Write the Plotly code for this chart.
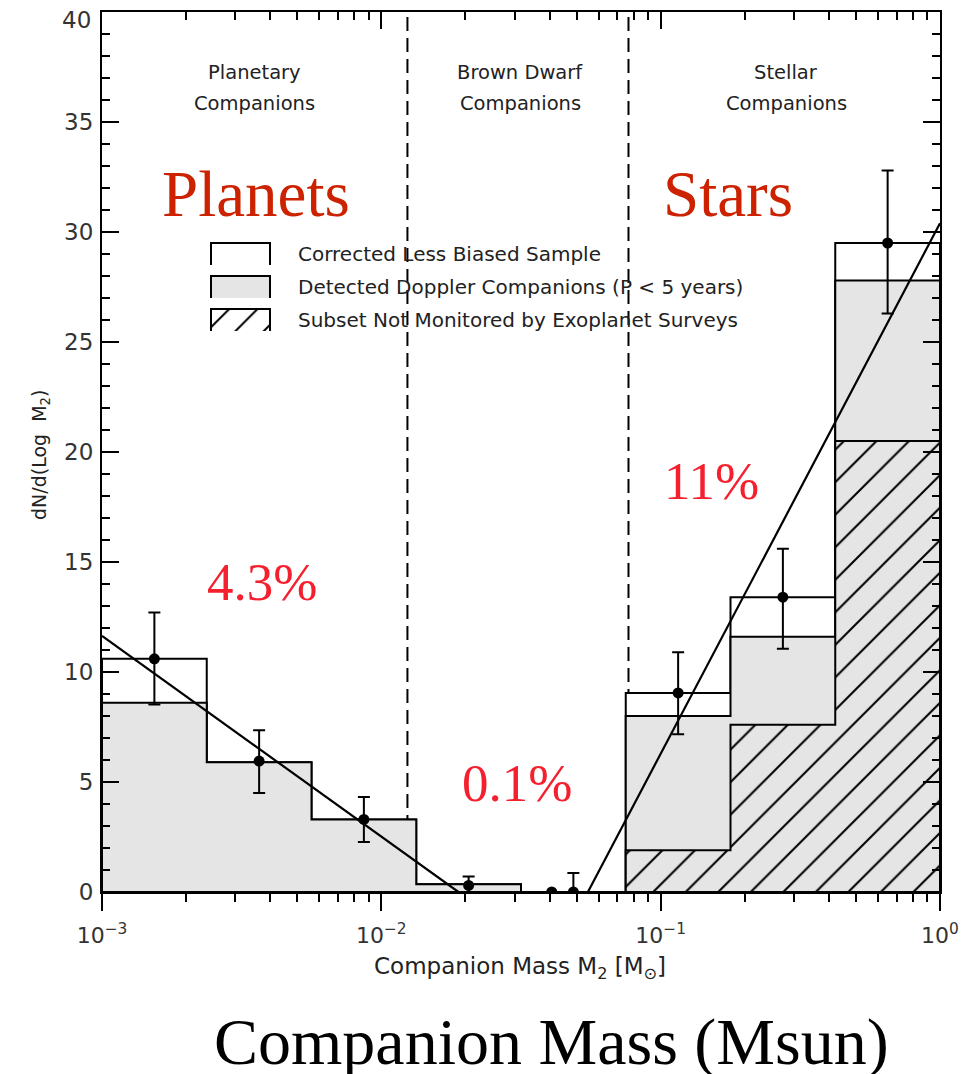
import plotly.graph_objects as go

# ---------------- data ----------------
# histogram bin edges in log10(M2 / Msun)
bin_edges_log = [-3.0, -2.625, -2.25, -1.875, -1.5, -1.125, -0.75, -0.375, 0.0]
corrected = [10.6, 5.9, 3.3, 0.35, 0.0, 9.05, 13.4, 29.5]      # Corrected Less Biased Sample
detected = [8.6, 5.9, 3.3, 0.35, 0.0, 8.0, 11.6, 27.8]         # Detected Doppler Companions
unmonitored = [0.0, 0.0, 0.0, 0.0, 0.0, 1.9, 7.6, 20.5]        # Subset Not Monitored

# data points with error bars (bin centres)
point_log = [-2.8125, -2.4375, -2.0625, -1.6875, -1.3125, -0.9375, -0.5625, -0.1875]
point_val = [10.6, 5.95, 3.3, 0.3, 0.0, 9.05, 13.4, 29.5]
err_high = [12.7, 7.35, 4.32, 0.71, 0.86, 10.9, 15.6, 32.8]
err_low = [8.52, 4.5, 2.27, 0.0, 0.0, 7.17, 11.06, 26.3]
extra_point_log = [-1.39]
extra_point_val = [0.0]

# fitted power laws (end points)
planet_fit_log = [-3.0, -1.724]
planet_fit_val = [11.64, 0.0]
stellar_fit_log = [-1.2605, 0.0]
stellar_fit_val = [0.0, 30.4]

# region boundaries (Msun)
boundaries = [0.0124, 0.0767]

# y ticks
y_ticks = [0, 5, 10, 15, 20, 25, 30, 35]
y_top_tick = 40

region_labels = [("Planetary", "Companions"), ("Brown Dwarf", "Companions"), ("Stellar", "Companions")]
legend_labels = ["Corrected Less Biased Sample",
                 "Detected Doppler Companions (P < 5 years)",
                 "Subset Not Monitored by Exoplanet Surveys"]

# ---------------- geometry ----------------
OFF = 8                           # page body margin
W, H = 974 - OFF, 1074 - OFF
L, R, T, B = 102, 940, 12, 892    # plot area in window pixels


def fx(p):
    return (p - L) / (R - L)


def fy(p):
    return (B - p) / (B - T)


def step_poly(edges, vals, i0=0, i1=None):
    if i1 is None:
        i1 = len(vals)
    xs = [10 ** edges[i0]]
    ys = [0.0]
    for i in range(i0, i1):
        xs += [10 ** edges[i], 10 ** edges[i + 1]]
        ys += [vals[i], vals[i]]
    xs += [10 ** edges[i1]]
    ys += [0.0]
    xs.append(xs[0])
    ys.append(ys[0])
    return xs, ys


GRAY = "#e5e5e5"
fig = go.Figure()

# dashed region boundaries (beneath histograms)
for b in boundaries:
    fig.add_trace(go.Scatter(x=[b, b], y=[0, 40], mode="lines",
                             line=dict(color="black", width=2, dash="14px,7px"),
                             showlegend=False, hoverinfo="skip"))

# corrected histogram (white)
xs, ys = step_poly(bin_edges_log, corrected)
fig.add_trace(go.Scatter(x=xs, y=ys, mode="lines", fill="toself", fillcolor="white",
                         line=dict(color="black", width=2), showlegend=False, hoverinfo="skip"))
# detected histogram (gray)
xs, ys = step_poly(bin_edges_log, detected)
fig.add_trace(go.Scatter(x=xs, y=ys, mode="lines", fill="toself", fillcolor=GRAY,
                         line=dict(color="black", width=2), showlegend=False, hoverinfo="skip"))
# unmonitored subset (hatched) - stellar bins only
xs, ys = step_poly(bin_edges_log, unmonitored, 5, 8)
fig.add_trace(go.Scatter(x=xs, y=ys, mode="lines", fill="toself", fillcolor=GRAY,
                         fillpattern=dict(shape="/", bgcolor=GRAY, fgcolor="#000000", fgopacity=1,
                                          size=23, solidity=0.09),
                         line=dict(color="black", width=2), showlegend=False, hoverinfo="skip"))

# points with error bars
fig.add_trace(go.Scatter(
    x=[10 ** v for v in point_log], y=point_val, mode="markers",
    marker=dict(color="black", size=11),
    error_y=dict(type="data", symmetric=False,
                 array=[h - v for h, v in zip(err_high, point_val)],
                 arrayminus=[v - l for v, l in zip(point_val, err_low)],
                 color="black", thickness=2, width=6),
    showlegend=False, hoverinfo="skip"))
fig.add_trace(go.Scatter(x=[10 ** v for v in extra_point_log], y=extra_point_val, mode="markers",
                         marker=dict(color="black", size=11), showlegend=False, hoverinfo="skip"))

# fit lines (on the top x axis, same scale)
fig.add_trace(go.Scatter(x=[10 ** v for v in planet_fit_log], y=planet_fit_val, mode="lines",
                         xaxis="x2", line=dict(color="black", width=2.2),
                         showlegend=False, hoverinfo="skip"))
fig.add_trace(go.Scatter(x=[10 ** v for v in stellar_fit_log], y=stellar_fit_val, mode="lines",
                         xaxis="x2", line=dict(color="black", width=2.2),
                         showlegend=False, hoverinfo="skip"))

# legend swatches on an overlay [0,1] axis pair
bx0, bx1 = fx(211), fx(270)
rows = [(243, 265), (276, 298), (309, 331)]
# box 1: open outline
t0, t1 = rows[0]
fig.add_trace(go.Scatter(x=[bx0, bx0, bx1, bx1], y=[fy(t1), fy(t0), fy(t0), fy(t1)], mode="lines",
                         xaxis="x3", yaxis="y3", line=dict(color="black", width=2),
                         showlegend=False, hoverinfo="skip"))
# box 2: gray
t0, t1 = rows[1]
fig.add_trace(go.Scatter(x=[bx0, bx0, bx1, bx1, bx0], y=[fy(t1), fy(t0), fy(t0), fy(t1), fy(t1)],
                         mode="lines", fill="toself", fillcolor=GRAY, line=dict(width=0),
                         xaxis="x3", yaxis="y3", showlegend=False, hoverinfo="skip"))
fig.add_trace(go.Scatter(x=[bx0, bx0, bx1, bx1], y=[fy(t1), fy(t0), fy(t0), fy(t1)], mode="lines",
                         xaxis="x3", yaxis="y3", line=dict(color="black", width=2),
                         showlegend=False, hoverinfo="skip"))
# box 3: hatched
t0, t1 = rows[2]
fig.add_trace(go.Scatter(x=[bx0, bx0, bx1, bx1, bx0], y=[fy(t1), fy(t0), fy(t0), fy(t1), fy(t1)],
                         mode="lines", fill="toself", fillcolor="white",
                         fillpattern=dict(shape="/", bgcolor="white", fgcolor="#000000", fgopacity=1,
                                          size=20, solidity=0.1),
                         line=dict(width=0),
                         xaxis="x3", yaxis="y3", showlegend=False, hoverinfo="skip"))
fig.add_trace(go.Scatter(x=[bx0, bx0, bx1, bx1], y=[fy(t1), fy(t0), fy(t0), fy(t1)], mode="lines",
                         xaxis="x3", yaxis="y3", line=dict(color="black", width=2),
                         showlegend=False, hoverinfo="skip"))

# ---------------- annotations ----------------
SANS = "DejaVu Sans"
SERIF = "Liberation Serif"
ann = []


def add_text(text, xp, yp, size, color="#222", family=SANS, xanchor="center", yanchor="middle"):
    ann.append(dict(text=text, x=fx(xp), y=fy(yp), xref="paper", yref="paper",
                    showarrow=False, xanchor=xanchor, yanchor=yanchor,
                    font=dict(family=family, size=size, color=color)))


region_x = [254, 520, 786]
for (l1, l2), xp in zip(region_labels, region_x):
    add_text(l1, xp, 72, 19.5)
    add_text(l2, xp, 104, 19.5)

for lab, (t0, t1) in zip(legend_labels, rows):
    add_text(lab, 296, (t0 + t1) / 2, 20, xanchor="left")

add_text("Planets", 256, 194, 65, color="#CC2200", family=SERIF)
add_text("Stars", 728, 194, 65, color="#CC2200", family=SERIF)
add_text("4.3%", 262, 582, 53, color="#F5202E", family=SERIF)
add_text("0.1%", 517, 783, 53, color="#F5202E", family=SERIF)
add_text("11%", 711, 481, 53, color="#F5202E", family=SERIF)

add_text("Companion Mass M<sub>2</sub> [M<sub>⊙</sub>]", 520, 968, 23)
ann.append(dict(text="dN/d(Log  M<sub>2</sub>)", x=fx(40), y=fy(455), xref="paper", yref="paper",
                showarrow=False, textangle=-90, xanchor="center", yanchor="middle",
                font=dict(family=SANS, size=19, color="#222")))
add_text("Companion Mass (Msun)", 551, 1042, 66, color="black", family=SERIF)
# top y tick label (kept inside the page, as in the original)
add_text(str(y_top_tick), 93, 20, 23, color="#333", xanchor="right")

# ---------------- axes ----------------
decades = [1e-3, 1e-2, 1e-1, 1.0]
dec_text = ["10<sup>−3</sup>", "10<sup>−2</sup>", "10<sup>−1</sup>", "10<sup>0</sup>"]
minor_vals = [m * d for d in decades[:-1] for m in range(2, 10)]
tickfont = dict(family=SANS, size=22, color="#333")

fig.update_layout(
    width=W, height=H,
    margin=dict(l=L - OFF, r=974 - R, t=T - OFF, b=1074 - B),
    paper_bgcolor="white", plot_bgcolor="white",
    showlegend=False,
    xaxis=dict(type="log", range=[-3, 0], showline=True, linecolor="black", linewidth=2,
               ticks="outside", ticklen=17, tickwidth=2, tickcolor="black",
               tickmode="array", tickvals=decades, ticktext=dec_text, tickfont=tickfont,
               ticklabelstandoff=6,
               minor=dict(tickmode="array", tickvals=minor_vals, ticks="outside", ticklen=8,
                          tickwidth=2, tickcolor="black", showgrid=False),
               showgrid=False, zeroline=False, mirror=False),
    xaxis2=dict(type="log", range=[-3, 0], overlaying="x", side="top", showline=True,
                linecolor="black", linewidth=2, ticks="inside", ticklen=17, tickwidth=2,
                tickcolor="black", tickmode="array", tickvals=decades, showticklabels=False,
                minor=dict(tickmode="array", tickvals=minor_vals, ticks="inside", ticklen=8,
                           tickwidth=2, tickcolor="black", showgrid=False),
                showgrid=False, zeroline=False),
    yaxis=dict(range=[0, 40], showline=True, linecolor="black", linewidth=2, mirror="ticks",
               ticks="inside", ticklen=17, tickwidth=2, tickcolor="black",
               tickmode="array", tickvals=y_ticks + [y_top_tick],
               ticktext=[str(v) for v in y_ticks] + [""],
               tickfont=dict(family=SANS, size=23, color="#333"), ticklabelstandoff=2,
               minor=dict(dtick=1, ticks="inside", ticklen=8, tickwidth=2, tickcolor="black",
                          showgrid=False),
               showgrid=False, zeroline=False),
    xaxis3=dict(range=[0, 1], overlaying="x", visible=False),
    yaxis3=dict(range=[0, 1], overlaying="y", visible=False),
    annotations=ann,
    shapes=[
        dict(type="line", xref="paper", yref="paper", x0=0, x1=0, y0=0, y1=-18 / (B - T),
             line=dict(color="black", width=2)),
        dict(type="line", xref="paper", yref="paper", x0=1, x1=1, y0=0, y1=-18 / (B - T),
             line=dict(color="black", width=2)),
    ],
)

fig.write_html("out.html")
